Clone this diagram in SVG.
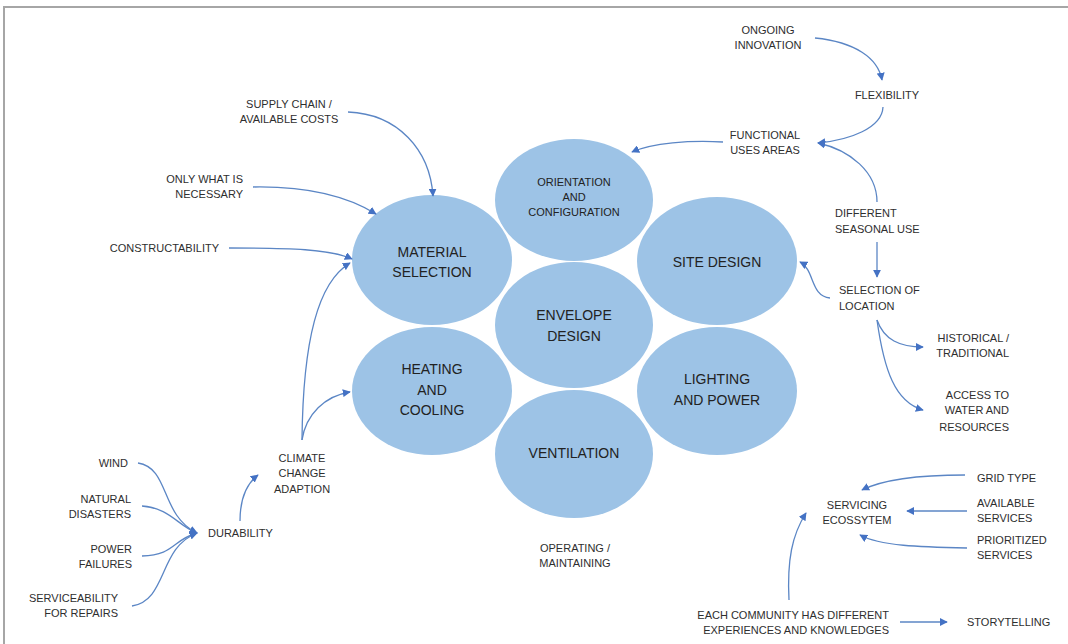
<svg xmlns="http://www.w3.org/2000/svg" width="1068" height="644" viewBox="0 0 1068 644">
<style>
.bg{fill:#ffffff}
.frame{fill:none;stroke:#a6a6a6;stroke-width:2}
.node ellipse{fill:#9dc3e6}
text{font-family:"Liberation Sans",Arial,sans-serif;fill:#2e2e2e}
.big{font-size:14px;text-anchor:middle;fill:#222}
.mid{font-size:11px;text-anchor:middle;fill:#222}
.lbl{font-size:11px}
.c{text-anchor:middle}
.r{text-anchor:end}
.conn path{fill:none;stroke:#5b86c5;stroke-width:1.3;marker-end:url(#ah)}
</style>
<defs>
<marker id="ah" viewBox="0 0 10 10" refX="9" refY="5" markerWidth="8" markerHeight="8" markerUnits="userSpaceOnUse" orient="auto">
<path d="M0,0 L10,5 L0,10 z" fill="#4472c4"/>
</marker>
</defs>
<rect class="bg" x="0" y="0" width="1068" height="644"/>
<path class="frame" d="M4,644 L4,7 L1068,7"/>

<g id="material-selection" class="node"><ellipse cx="432" cy="260" rx="80" ry="65"/><text class="big" x="432" y="257">MATERIAL</text><text class="big" x="432" y="277">SELECTION</text></g>
<g id="orientation" class="node"><ellipse cx="574" cy="200" rx="79" ry="61"/><text class="mid" x="574" y="186">ORIENTATION</text><text class="mid" x="574" y="201">AND</text><text class="mid" x="574" y="216">CONFIGURATION</text></g>
<g id="site-design" class="node"><ellipse cx="717" cy="261" rx="80" ry="64"/><text class="big" x="717" y="267">SITE DESIGN</text></g>
<g id="envelope-design" class="node"><ellipse cx="574" cy="325" rx="79" ry="63"/><text class="big" x="574" y="320">ENVELOPE</text><text class="big" x="574" y="341">DESIGN</text></g>
<g id="heating-cooling" class="node"><ellipse cx="432" cy="391" rx="80" ry="64"/><text class="big" x="432" y="374">HEATING</text><text class="big" x="432" y="395">AND</text><text class="big" x="432" y="415">COOLING</text></g>
<g id="lighting-power" class="node"><ellipse cx="717" cy="391" rx="80" ry="64"/><text class="big" x="717" y="384">LIGHTING</text><text class="big" x="717" y="405">AND POWER</text></g>
<g id="ventilation" class="node"><ellipse cx="574" cy="454" rx="79" ry="64"/><text class="big" x="574" y="458">VENTILATION</text></g>

<g id="ongoing-innovation"><text class="lbl c" x="768" y="34">ONGOING</text><text class="lbl c" x="768" y="49">INNOVATION</text></g>
<g id="flexibility"><text class="lbl c" x="887" y="99">FLEXIBILITY</text></g>
<g id="functional-uses"><text class="lbl c" x="765" y="139">FUNCTIONAL</text><text class="lbl c" x="765" y="154">USES AREAS</text></g>
<g id="seasonal-use"><text class="lbl" x="835" y="217">DIFFERENT</text><text class="lbl" x="835" y="233">SEASONAL USE</text></g>
<g id="selection-location"><text class="lbl" x="839" y="294">SELECTION OF</text><text class="lbl" x="839" y="310">LOCATION</text></g>
<g id="historical"><text class="lbl r" x="1009" y="342">HISTORICAL /</text><text class="lbl r" x="1009" y="357">TRADITIONAL</text></g>
<g id="access-water"><text class="lbl r" x="1009" y="399">ACCESS TO</text><text class="lbl r" x="1009" y="414">WATER AND</text><text class="lbl r" x="1009" y="431">RESOURCES</text></g>
<g id="supply-chain"><text class="lbl c" x="289" y="108">SUPPLY CHAIN /</text><text class="lbl c" x="289" y="123">AVAILABLE COSTS</text></g>
<g id="only-necessary"><text class="lbl r" x="243" y="183">ONLY WHAT IS</text><text class="lbl r" x="243" y="198">NECESSARY</text></g>
<g id="constructability"><text class="lbl r" x="219" y="252">CONSTRUCTABILITY</text></g>
<g id="climate-change"><text class="lbl c" x="302" y="462">CLIMATE</text><text class="lbl c" x="302" y="477">CHANGE</text><text class="lbl c" x="302" y="493">ADAPTION</text></g>
<g id="wind"><text class="lbl r" x="128" y="467">WIND</text></g>
<g id="natural-disasters"><text class="lbl r" x="131" y="503">NATURAL</text><text class="lbl r" x="131" y="518">DISASTERS</text></g>
<g id="power-failures"><text class="lbl r" x="132" y="553">POWER</text><text class="lbl r" x="132" y="568">FAILURES</text></g>
<g id="serviceability"><text class="lbl r" x="118" y="602">SERVICEABILITY</text><text class="lbl r" x="118" y="617">FOR REPAIRS</text></g>
<g id="durability"><text class="lbl" x="208" y="537">DURABILITY</text></g>
<g id="operating"><text class="lbl c" x="575" y="552">OPERATING /</text><text class="lbl c" x="575" y="567">MAINTAINING</text></g>
<g id="servicing"><text class="lbl c" x="857" y="509">SERVICING</text><text class="lbl c" x="857" y="524">ECOSSYTEM</text></g>
<g id="grid-type"><text class="lbl" x="977" y="482">GRID TYPE</text></g>
<g id="available-services"><text class="lbl" x="977" y="507">AVAILABLE</text><text class="lbl" x="977" y="522">SERVICES</text></g>
<g id="prioritized-services"><text class="lbl" x="977" y="544">PRIORITIZED</text><text class="lbl" x="977" y="559">SERVICES</text></g>
<g id="community"><text class="lbl r" x="889" y="619">EACH COMMUNITY HAS DIFFERENT</text><text class="lbl r" x="889" y="634">EXPERIENCES AND KNOWLEDGES</text></g>
<g id="storytelling"><text class="lbl" x="967" y="626">STORYTELLING</text></g>

<g id="connectors" class="conn">
<path d="M815,38 C855,42 878,58 882,80"/>
<path d="M883,107 C882,128 850,140 818,143"/>
<path d="M723,142 C690,140 652,143 632,152"/>
<path d="M877,202 C877,172 850,150 818,143"/>
<path d="M877,242 L877,277"/>
<path d="M830,298 C810,296 815,270 800,262"/>
<path d="M877,320 C884,340 900,347 923,347"/>
<path d="M877,320 C884,370 895,402 923,410"/>
<path d="M348,112 C398,114 430,150 433,196"/>
<path d="M253,187 C310,186 350,198 376,214"/>
<path d="M229,248 C290,248 330,249 352,259"/>
<path d="M302,440 C303,340 318,282 350,263"/>
<path d="M302,440 C306,414 325,396 350,392"/>
<path d="M240,521 C240,500 245,485 258,475"/>
<path d="M138,463 C170,468 160,515 197,533"/>
<path d="M142,506 C170,508 178,526 197,533"/>
<path d="M142,556 C175,555 172,540 197,533"/>
<path d="M132,606 C168,600 158,548 197,533"/>
<path d="M965,475 C920,475 882,480 862,490"/>
<path d="M967,511 L907,511"/>
<path d="M967,548 C920,547 880,546 860,535"/>
<path d="M789,600 C787,560 792,535 806,513"/>
<path d="M900,622 L947,622"/>
</g>
</svg>
